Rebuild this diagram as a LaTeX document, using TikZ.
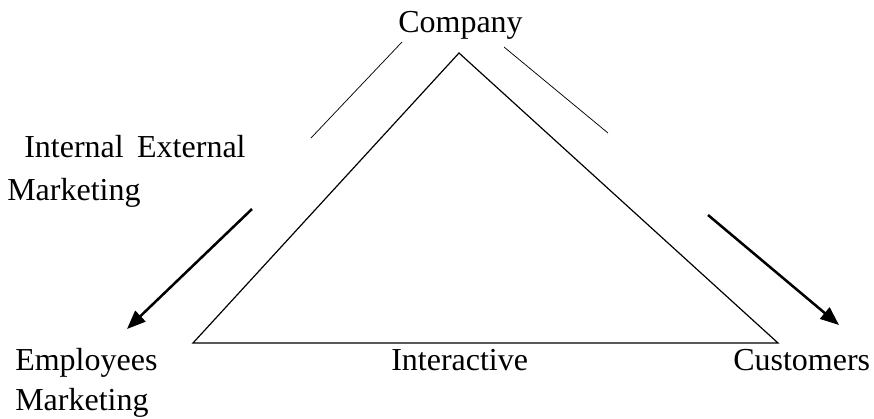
\documentclass[tikz,border=0pt]{standalone}
\usepackage{fontspec}
\setmainfont{Liberation Serif}
\usetikzlibrary{arrows.meta}
\tikzset{
  x=0.75pt, y=-0.75pt,
  every node/.style={inner sep=0pt, anchor=base west, font=\fontsize{24}{28}\selectfont},
}

\begin{document}
\begin{tikzpicture}
    [>={Triangle[length=14pt, width=11pt]},
    side/.style={line width=0.9pt},
    guide/.style={line width=0.55pt},
    flow/.style={->, line width=1.9pt}
    ]
    \useasboundingbox (0,0) rectangle (874,418);

    % corners of the triangle
    \coordinate (top)   at (459,53);
    \coordinate (left)  at (193,343);
    \coordinate (right) at (778,343);
    \draw[side] (left) -- (top) -- (right) -- cycle;

    % labels
    \node (company)   at (398,32)  {Company};
    \node (intext)    at (24,157)  {Internal\hspace{0.42em}External};
    \node (mkttop)    at (7,200)   {Marketing};
    \node (employees) at (15,370)  {Employees};
    \node (mktbot)    at (15,410)  {Marketing};
    \node (interact)  at (391,370) {Interactive};
    \node (customers) at (733,370) {Customers};

    % thin guide strokes beside the upper sides
    \coordinate (gl1) at (402,42);
    \coordinate (gl2) at (311,138);
    \coordinate (gr1) at (504,47);
    \coordinate (gr2) at (608,133);
    \draw[guide] (gl1) -- (gl2);
    \draw[guide] (gr1) -- (gr2);

    % arrows out to both sides
    \coordinate (al1) at (252,209);
    \coordinate (al2) at (127,329);
    \coordinate (ar1) at (708,215);
    \coordinate (ar2) at (839,325);
    \draw[flow] (al1) -- (al2);
    \draw[flow] (ar1) -- (ar2);

\end{tikzpicture}
\end{document}
